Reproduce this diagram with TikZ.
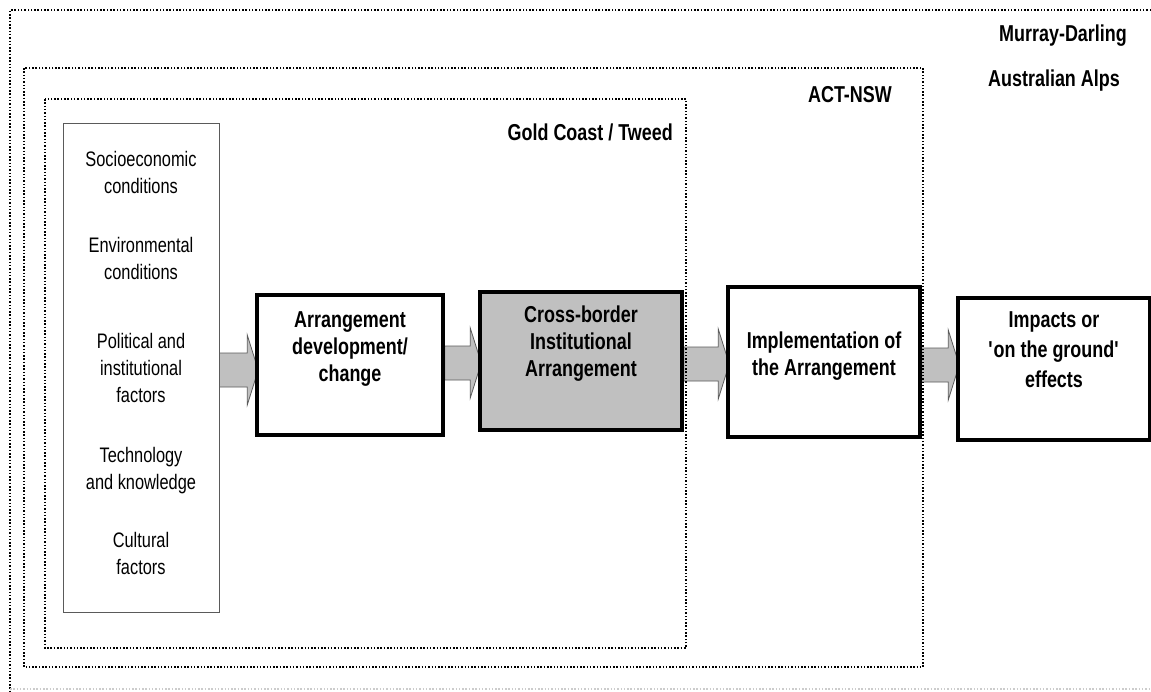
\documentclass[tikz,border=0pt]{standalone}
\usepackage{fontspec}
\setmainfont[FakeStretch=0.78]{Liberation Sans}
\usetikzlibrary{calc,backgrounds}

\definecolor{panelgray}{RGB}{192,192,192}
\definecolor{edgegray}{RGB}{90,90,90}

\tikzset{
  region/.style={line width=2pt, dash pattern=on 1.5pt off 1.8pt},
  regionlbl/.style={font=\fontsize{23}{26}\selectfont\bfseries, inner sep=0pt},
  stage/.style={draw, line width=3.5pt, inner sep=0pt},
  stagetxt/.style={font=\fontsize{23}{27}\selectfont\bfseries, align=center, inner sep=0pt},
  factortxt/.style={font=\fontsize{21}{27}\selectfont, align=center, inner sep=0pt},
  flowarrow/.style={fill=panelgray, draw=edgegray, line width=0.8pt},
}

% block arrow: from the x of #1 to just past the x of #2, centred on height #3
\newcommand\flowarrow[3]{%
  \path[flowarrow] let \p1=(#1), \p2=(#2), \p3=(0,#3) in
    (\x1,\y3+17pt) -- (\x2-8pt,\y3+17pt) -- (\x2-8pt,\y3+35pt)
    -- (\x2+3pt,\y3) -- (\x2-8pt,\y3-35pt) -- (\x2-8pt,\y3-17pt)
    -- (\x1,\y3-17pt) -- cycle;}

\begin{document}
\begin{tikzpicture}[x=1pt,y=-1pt]
\useasboundingbox (0,0) rectangle (1151,691);

% nested regions
\draw[region] (1151,10) -- (10,10) -- (10,691);
\draw[region, draw=gray!40] (10,689) -- (1151,689);
\draw[region] (24,68) rectangle (923,667);
\draw[region] (45,99) rectangle (686,648);

\node[regionlbl, anchor=base east] (md)   at (1127,41)  {Murray-Darling};
\node[regionlbl, anchor=base east] (alps) at (1120,86)  {Australian Alps};
\node[regionlbl, anchor=base east] (act)  at (892,102)  {ACT-NSW};
\node[regionlbl, anchor=base east] (gct)  at (673,140)  {Gold Coast / Tweed};

% driving factors
\node[draw=edgegray, line width=1pt, minimum width=156pt, minimum height=489pt, inner sep=0pt]
  (factors) at (141,367.5) {};
\node[factortxt] (f1) at (141,172) {Socioeconomic\\conditions};
\node[factortxt] (f2) at (141,258) {Environmental\\conditions};
\node[factortxt] (f3) at (141,368) {Political and\\institutional\\factors};
\node[factortxt] (f4) at (141,471) {Technology\\and knowledge};
\node[factortxt] (f5) at (141,553) {Cultural\\factors};

% stages
\node[stage, minimum width=186pt, minimum height=140pt] (dev) at (350,365) {};
\node[stage, fill=panelgray, minimum width=202pt, minimum height=138pt] (arr) at (581,361) {};
\node[stage, minimum width=192pt, minimum height=150pt] (impl) at (824,362) {};
\node[stage, minimum width=192pt, minimum height=142pt] (eff) at (1054,369) {};

\node[stagetxt] (devtxt)  at (350,349) {Arrangement\\development/\\change};
\node[stagetxt] (arrtxt)  at (581,344) {Cross-border\\Institutional\\Arrangement};
\node[stagetxt] (impltxt) at (824,356) {Implementation of\\the Arrangement};
\node[stagetxt, font=\fontsize{23}{30}\selectfont\bfseries] (efftxt) at (1054,350)
  {Impacts or\\\textquotesingle on the ground\textquotesingle\\effects};

% flow between stages
\begin{scope}[on background layer]
  \flowarrow{factors.east}{dev.west}{370}
  \flowarrow{dev.east}{arr.west}{363}
  \flowarrow{arr.east}{impl.west}{364}
  \flowarrow{impl.east}{eff.west}{365}
\end{scope}
\end{tikzpicture}
\end{document}
